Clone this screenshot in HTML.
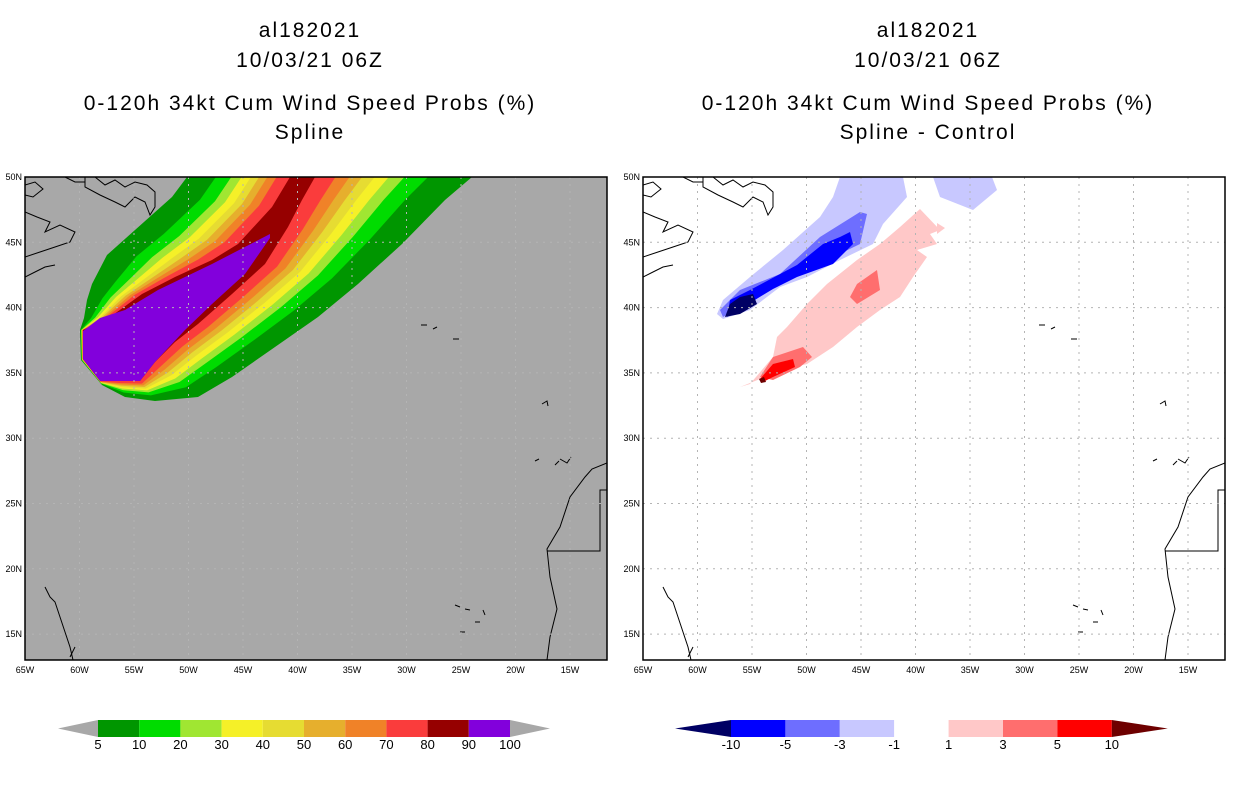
<!DOCTYPE html>
<html><head><meta charset="utf-8">
<style>
body{margin:0;background:#fff;width:1236px;height:800px;overflow:hidden;font-family:"Liberation Sans",sans-serif}
svg text{font-family:"Liberation Sans",sans-serif}
</style></head>
<body>
<svg id="chart" width="1236" height="800" viewBox="0 0 1236 800" xmlns="http://www.w3.org/2000/svg">
<g font-size="21" text-anchor="middle" letter-spacing="2">
<text x="310" y="37">al182021</text>
<text x="310" y="67">10/03/21 06Z</text>
<text x="310" y="110">0-120h 34kt Cum Wind Speed Probs (%)</text>
<text x="310" y="139">Spline</text>
</g>
<g font-size="21" text-anchor="middle" letter-spacing="2">
<text x="928" y="37">al182021</text>
<text x="928" y="67">10/03/21 06Z</text>
<text x="928" y="110">0-120h 34kt Cum Wind Speed Probs (%)</text>
<text x="928" y="139">Spline - Control</text>
</g>
<g id="left"></g>
<g id="right"></g>
<g id="cbl"></g>
<g id="cbr"></g>
</svg>
<script>
const lonTicks=[-65,-60,-55,-50,-45,-40,-35,-30,-25,-20,-15];
const latTicks=[50,45,40,35,30,25,20,15];
const leftLevels=[5,10,20,30,40,50,60,70,80,90,100];
const leftColors=["#009600","#00dc00","#a0e632","#f5f028","#e6dc32","#e6af2d","#f08228","#fa3c3c","#960000","#8200dc"];
const bandFrac=[0,0.28,0.43,0.53,0.62,0.70,0.78,0.87,1.0];
const rightLevels=[-10,-5,-3,-1,1,3,5,10];
const rightColors=["#000064","#0000ff","#6e6eff","#c8c8ff","#ffffff","#ffc8c8","#ff6e6e","#ff0000","#6e0000"];
const NS="http://www.w3.org/2000/svg";
function el(t,a,p){const e=document.createElementNS(NS,t);for(const k in a)e.setAttribute(k,a[k]);p.appendChild(e);return e;}
const W=582,H=483,TOP=177;
function xs(lon){return (lon+65)*10.9;}
function ys(lat){return (50-lat)*13.06;}
const outerB=[[187,177],[172,197],[135,230],[107,255],[92,284],[87,300],[84,318],[80,330],[81,360],[102,385],[125,397],[155,401],[198,397],[232,377],[275,347],[318,317],[358,284],[402,244],[445,200],[472,177]];
const innerB=[[290,177],[272,207],[238,244],[212,260],[175,277],[142,294],[110,317],[83,330],[83,359],[100,381],[120,381],[140,381],[155,362],[175,342],[198,324],[232,294],[265,264],[288,227],[302,200],[315,177]];
const purple=[[270,234],[212,264],[158,290],[125,310],[100,318],[83,331],[83,359],[100,381],[140,381],[155,362],[185,330],[212,304],[245,274],[270,238]];
function pts(a,ox,oy){return a.map(p=>(p[0]+ox)+","+(p[1]+oy)).join(" ");}
function drawPanel(g,ox,bg){
  const clip=el("clipPath",{id:"clip"+ox},g);
  el("rect",{x:ox,y:TOP,width:W,height:H},clip);
  el("rect",{x:ox,y:TOP,width:W,height:H,fill:bg},g);
  return el("g",{"clip-path":"url(#clip"+ox+")"},g);
}
function addGridAndAxes(g,inner,ox){
  lonTicks.forEach(l=>{const x=ox+xs(l);
    const ln=el("line",{x1:x,y1:TOP,x2:x,y2:TOP+H,stroke:"#b4b4b4","stroke-dasharray":"2,5"},inner);
    
    const t=el("text",{x:x,y:673,"font-size":9,"text-anchor":"middle"},g);t.textContent=(-l)+"W";
    
    });
  latTicks.forEach(l=>{const y=TOP+ys(l);
    const ln=el("line",{x1:ox,y1:y,x2:ox+W,y2:y,stroke:"#b4b4b4","stroke-dasharray":"2,5"},inner);
    
    const t=el("text",{x:ox-3,y:y+3,"font-size":9,"text-anchor":"end"},g);t.textContent=l+"N";
    
    });
}
const coasts=[
 "M0,8 L10,5 18,12 8,20 0,18","M0,35 L12,40 25,45 20,55 35,48 50,55 45,65 30,70 15,75 0,80",
 "M60,0 L60,10 75,18 90,25 100,30 110,20 120,25 125,38 130,30 130,15 122,8 110,5 100,10 90,3 80,8 70,0",
 "M40,0 L50,5 60,5","M0,100 L10,95 20,90 30,88",
 "M396,148 L402,148 M408,152 L412,150 M428,162 L434,162",
 "M517,227 L522,224 523,229 M510,284 L514,282 M535,282 L542,286 546,280 M530,288 L534,284",
 "M582,286 L567,292 560,300 545,320 535,350 522,372 525,400 532,432 525,460 522,483",
 "M522,374 L575,374 575,313 582,313",
 "M20,410 L25,420 30,425 35,440 40,455 45,470 48,483","M45,480 L50,470",
 "M430,428 L435,430 M440,432 L445,433 M458,433 L460,438 M450,445 L455,445 M435,455 L440,455"];
const L=document.getElementById("left");
const li=drawPanel(L,25,"#a8a8a8");
for(let k=0;k<9;k++){
  const f=bandFrac[k];
  const poly=outerB.map((p,i)=>[p[0]+(innerB[i][0]-p[0])*f,p[1]+(innerB[i][1]-p[1])*f]);
  const e=el("polygon",{points:pts(poly,0,0),fill:leftColors[k]},li);
  
  
}
const pe=el("polygon",{points:pts(purple,0,0),fill:leftColors[9]},li);


coasts.forEach(d=>{const c=el("path",{d:d,transform:"translate(25,177)",fill:"none",stroke:"#000","stroke-width":1},li);});
addGridAndAxes(L,li,25);
el("rect",{x:25,y:TOP,width:W,height:H,fill:"none",stroke:"#000","stroke-width":1.5},L);
const R=document.getElementById("right");
const ri=drawPanel(R,643,"#ffffff");
const rp=[
 ["#c8c8ff",[[840,177],[903,177],[907,197],[883,224],[873,244],[840,260],[807,277],[780,287],[750,310],[723,319],[717,314],[723,300],[750,277],[783,250],[820,217],[833,197]]],
 ["#c8c8ff",[[933,177],[992,177],[997,190],[973,210],[940,197]]],
 ["#6e6eff",[[867,214],[860,244],[827,260],[793,277],[760,294],[723,317],[720,310],[740,290],[780,274],[820,237],[860,212]]],
 ["#0000ff",[[850,232],[853,244],[833,264],[797,277],[773,289],[740,309],[727,317],[730,300],[750,290],[797,265],[823,244],[840,237]]],
 ["#000064",[[753,294],[757,304],[740,314],[725,317],[730,304],[740,297]]],
 ["#ffc8c8",[[740,387],[760,379],[783,370],[807,364],[833,347],[857,327],[880,310],[900,297],[913,277],[927,257],[917,250],[937,244],[930,234],[940,230],[920,209],[900,227],[880,244],[857,260],[827,284],[807,304],[787,327],[777,337],[773,357],[750,384]]],
 ["#ffc8c8",[[937,223],[945,228],[937,234]]],
 ["#ff6e6e",[[857,284],[877,270],[880,290],[857,304],[850,297]]],
 ["#ff6e6e",[[760,377],[773,357],[803,347],[812,357],[800,367],[773,380]]],
 ["#ff0000",[[760,379],[773,364],[793,359],[795,367],[773,377],[763,382]]],
 ["#6e0000",[[759,379],[764,377],[766,382],[761,383]]]];
rp.forEach(r=>{const e=el("polygon",{points:r[1].map(p=>p.join(",")).join(" "),fill:r[0]},ri);
  
  });
coasts.forEach(d=>{const c=el("path",{d:d,transform:"translate(643,177)",fill:"none",stroke:"#000","stroke-width":1},ri);});
addGridAndAxes(R,ri,643);
el("rect",{x:643,y:TOP,width:W,height:H,fill:"none",stroke:"#000","stroke-width":1.5},R);
function colorbar(g,x0,bw,n,colors,levels,endL,endR,tw){
  const y=720,h=17;
  const a=el("polygon",{points:`${x0},${y} ${x0},${y+h} ${x0-tw},${y+h/2}`,fill:endL},g);
  
  for(let i=0;i<n;i++){const r=el("rect",{x:x0+i*bw,y:y,width:bw,height:h,fill:colors[i]},g);
    }
  const xe=x0+n*bw;
  const b=el("polygon",{points:`${xe},${y} ${xe},${y+h} ${xe+tw},${y+h/2}`,fill:endR},g);
  
  levels.forEach((v,i)=>{const t=el("text",{x:x0+i*bw,y:749,"font-size":13,"text-anchor":"middle"},g);t.textContent=v;
    });
}
colorbar(document.getElementById("cbl"),98,41.2,10,leftColors,leftLevels,"#a8a8a8","#a8a8a8",40);
colorbar(document.getElementById("cbr"),731,54.4,7,rightColors.slice(1,8),rightLevels,rightColors[0],rightColors[8],56);
</script>
</body></html>
